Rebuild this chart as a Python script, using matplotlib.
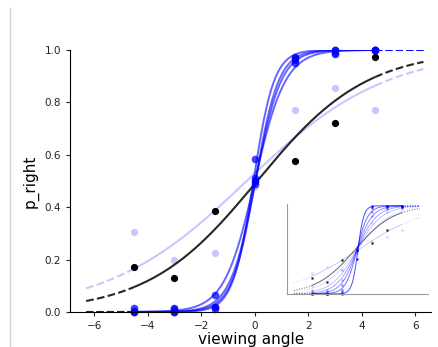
import numpy as np
import matplotlib
matplotlib.use('Agg')
import matplotlib.pyplot as plt
from matplotlib.lines import Line2D

# viewing angles of the measured points
angles = [-4.5, -3, -1.5, 0, 1.5, 3, 4.5]

# main panel: measured p_right per session
black_y = [0.17, 0.13, 0.385, 0.50, 0.575, 0.72, 0.975]
light_y = [0.305, 0.20, 0.225, 0.48, 0.77, 0.855, 0.77]
blue_ys = [
    [0.0, 0.0, 0.02, 0.585, 0.975, 1.0, 1.0],
    [0.015, 0.01, 0.065, 0.50, 0.96, 0.99, 1.0],
    [0.0, 0.015, 0.02, 0.49, 0.95, 1.0, 1.0],
    [0.005, 0.0, 0.01, 0.51, 0.97, 0.985, 1.0],
]
# fitted logistic parameters (slope, threshold)
black_fit = (0.49, 0.09)
light_fit = (0.385, -0.30)
blue_fits = [(2.6, -0.05), (1.75, 0.0), (2.1, 0.03), (2.3, 0.02)]

# inset panel
inset_black_y = [0.18, 0.13, 0.39, 0.50, 0.58, 0.73, 0.99]
inset_light_y = [0.24, 0.30, 0.27, 0.50, 0.60, 0.65, 0.72]
inset_black_fit = (0.52, -0.2)
inset_light_fit = (0.30, 0.1)
inset_blue_fits = [(0.6, 0.0), (0.8, 0.0), (1.0, 0.0), (1.3, 0.0), (1.8, 0.0), (3.4, 0.1)]
inset_blue_alphas = [0.2, 0.35, 0.5, 0.65, 0.8, 1.0]
inset_blue_ys = [
    [0.09, 0.05, 0.27, 0.48, 0.80, 0.93, 0.96],
    [0.05, 0.03, 0.16, 0.46, 0.88, 0.96, 0.98],
    [0.02, 0.02, 0.10, 0.50, 0.93, 0.98, 1.0],
    [0.01, 0.0, 0.05, 0.52, 0.97, 0.99, 1.0],
    [0.0, 0.0, 0.02, 0.50, 0.99, 1.0, 1.0],
    [0.0, 0.0, 0.0, 0.40, 1.0, 1.0, 1.0],
]


def logistic(x, fit):
    slope, thr = fit
    return 1.0 / (1.0 + np.exp(-slope * (x - thr)))


def drawCurve(ax, fit, color, alpha, lw, ls_ext='--'):
    xs = np.linspace(-4.5, 4.5, 200)
    xl = np.linspace(-6.3, -4.5, 40)
    xr = np.linspace(4.5, 6.3, 40)
    ax.plot(xs, logistic(xs, fit), color=color, alpha=alpha, lw=lw, solid_capstyle='butt')
    ax.plot(xl, logistic(xl, fit), color=color, alpha=alpha, lw=lw, ls=ls_ext)
    ax.plot(xr, logistic(xr, fit), color=color, alpha=alpha, lw=lw, ls=ls_ext)


fig = plt.figure(figsize=(4.38, 3.47), dpi=100)
ax = fig.add_axes([0.16, 0.101, 0.825, 0.755])

LIGHT = (0.78, 0.78, 1.0)

drawCurve(ax, light_fit, LIGHT, 1.0, 1.5)
ax.plot(angles, light_y, 'o', color=LIGHT, ms=5.2, clip_on=False, mec='none')
drawCurve(ax, black_fit, 'black', 0.85, 1.5)
ax.plot(angles, black_y, 'o', color='black', ms=5.2, clip_on=False, mec='none')
for ys, fit in zip(blue_ys, blue_fits):
    drawCurve(ax, fit, 'blue', 0.6, 1.4)
    ax.plot(angles, ys, 'o', color='blue', alpha=0.75, ms=5.5, clip_on=False, mec='none')

ax.set_xlim(-6.9, 6.6)
ax.set_ylim(0, 1)
ax.set_xticks([-6, -4, -2, 0, 2, 4, 6])
ax.set_yticks([0.0, 0.2, 0.4, 0.6, 0.8, 1.0])
ax.tick_params(labelsize=7.5, length=3, colors='#222222')
for s in ['top', 'right']:
    ax.spines[s].set_visible(False)
ax.set_xlabel('viewing angle', fontsize=11, labelpad=1)
ax.set_ylabel('p_right', fontsize=11)

# inset with model curves
axi = fig.add_axes([0.655, 0.153, 0.322, 0.259])
drawCurve(axi, inset_light_fit, LIGHT, 1.0, 0.7, ':')
axi.plot(angles, inset_light_y, 's', color=LIGHT, ms=2, mec='none')
drawCurve(axi, inset_black_fit, 'black', 0.6, 0.7, ':')
axi.plot(angles, inset_black_y, 's', color='black', ms=2, mec='none')
for ys, fit, a in zip(inset_blue_ys, inset_blue_fits, inset_blue_alphas):
    drawCurve(axi, fit, 'blue', a * 0.7, 0.7, ':')
    axi.plot(angles, ys, 's', color='blue', alpha=a, ms=2, mec='none', clip_on=False)
axi.set_xlim(-7.0, 7.1)
axi.set_ylim(0, 1.02)
axi.set_xticks([])
axi.set_yticks([])
for s in ['top', 'right']:
    axi.spines[s].set_visible(False)
for s in ['left', 'bottom']:
    axi.spines[s].set_color('#999999')
    axi.spines[s].set_linewidth(0.8)
axi.patch.set_alpha(0)

# notebook cell border
fig.add_artist(Line2D([9.5 / 438, 9.5 / 438], [0, 1 - 8 / 347], color='#d6d6d6', lw=1))

fig.savefig('out.png', dpi=100)
